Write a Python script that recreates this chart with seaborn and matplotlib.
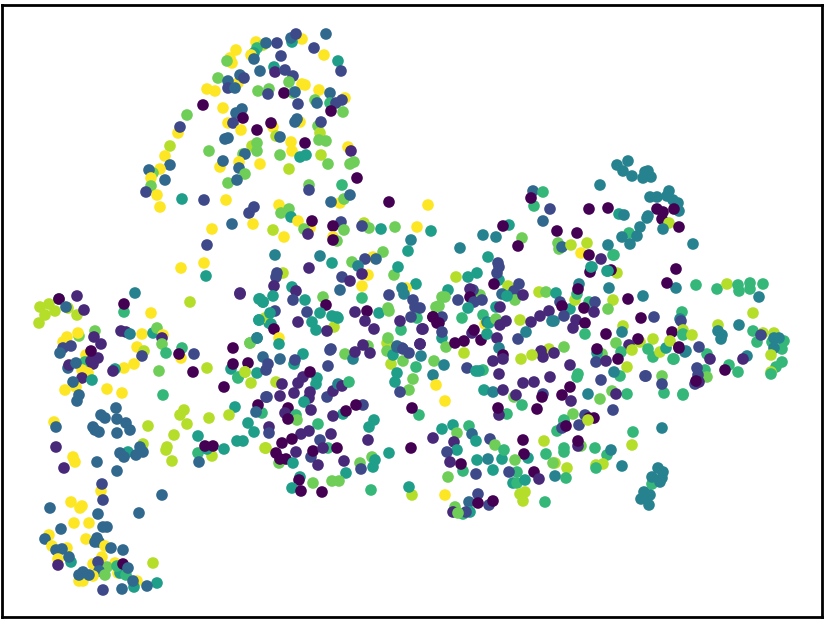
import matplotlib
matplotlib.use("Agg")
import matplotlib.pyplot as plt
import pandas as pd
import seaborn as sns

# (x, y, class), embedding units
left_mid = [(40,307,8),(49,304,8),(45,315,8),(39,323,8),(55,311,8),(68,308,8),(77,315,8),(59,299,6),(59,299,0),(77,296,1),(66,307,3),(84,310,1),
(124,312,6),(124,304,0),(135,293,4),(151,313,9),(190,302,8),(240,294,1),
(95,331,7),(79,336,7),(78,333,9),(67,337,9),(63,342,9),(94,337,1),(101,344,1),(71,346,2),(63,348,2),(60,353,3),(86,355,9),(85,362,6),(98,358,1),(91,361,1),(93,364,1),(91,351,0),
(82,370,9),(88,373,9),(68,368,3),(69,365,1),(76,363,3),(82,378,1),(92,380,5),(76,387,9),(73,382,3),(65,390,9),(79,395,3),(77,401,3),(107,389,9),(122,393,9),
(121,331,1),(126,332,1),(130,334,4),(142,334,9),(153,333,5),(157,328,7),(163,335,9),(162,338,1),(162,344,7),(166,353,6),(182,348,6),(181,358,9),(179,354,0),(194,354,2),(137,347,9),(144,351,8),(142,356,2),(134,364,9),(124,368,9),(115,369,5),(113,371,1),(193,372,0),(207,368,8),(159,371,7),(163,395,6),
(224,387,0),(233,348,0),(231,369,5),(233,364,0),(248,363,0),(238,378,6),(245,372,8),(251,383,8),(257,373,5),(250,343,7),(257,338,4),(259,320,5),(260,299,5),(263,302,5),(265,318,8),(269,323,5),
(266,397,2),(262,413,6),(258,405,0),(256,412,3),(235,407,5),(229,415,8),(209,418,8),(184,410,8),(180,415,8),(187,424,8),(174,435,8),(198,436,5),(248,423,5),(254,432,5),
(116,408,3),(101,415,3),(105,418,3),(117,419,3),(126,423,3),(130,430,3),(93,427,3),(95,430,3),(99,432,3),(117,433,3),(148,426,8),(54,422,9),(56,427,3),(56,447,1)]

bottom_left = [(73,457,9),(75,462,9),(64,468,1),(97,462,3),(117,471,3),(128,452,5),(120,453,3),(124,457,3),(143,444,8),(136,455,3),(140,447,3),(143,452,3),(167,447,8),(166,450,8),(172,461,8),(198,453,6),(199,462,3),(212,456,8),(207,449,5),(205,446,0),(213,446,0),(224,449,5),(237,441,5),(243,441,5),(265,448,8),
(101,491,9),(102,484,2),(103,500,2),(162,495,3),(71,502,9),(80,508,9),(82,506,9),(50,508,3),(98,514,3),(139,513,3),(74,523,9),(89,523,9),(103,527,3),(107,527,3),(61,529,3),(49,535,9),(45,539,3),(86,539,9),(97,538,3),(95,542,3),(99,542,3),(105,546,9),(111,548,3),(123,550,3),(52,546,9),(67,548,9),(56,550,3),(62,549,3),(58,559,9),(71,562,5),(69,557,3),(58,565,1),(102,557,9),(93,564,9),(115,563,9),(153,563,8),(107,567,7),(98,562,2),(99,571,3),(105,575,7),(118,573,9),(120,573,5),(126,575,6),(117,566,6),(123,564,0),(128,568,3),(93,576,9),(79,581,9),(83,581,9),(79,575,3),(83,572,3),(89,575,3),(137,581,9),(134,587,5),(133,581,3),(157,583,5),(147,586,3),(122,589,3),(103,590,2)]

top_arc = [(256,42,9),(263,45,8),(257,48,6),(254,53,5),(251,55,9),(254,59,3),(266,43,3),(277,43,2),(302,39,9),(292,42,5),(291,38,3),(296,34,2),(326,34,3),(314,48,2),(324,55,9),(281,56,2),(338,61,5),(341,71,2),(274,67,5),(260,71,3),(275,72,1),(285,70,2),(293,76,2),(236,50,9),(230,58,9),(232,63,9),(227,61,7),(218,78,7),(238,83,9),(240,75,3),(244,78,2),(228,81,3),(207,89,9),(215,91,9),(228,88,2),(235,88,3),(289,82,7),(302,84,9),(305,85,9),(258,91,7),(269,89,7),(268,94,2),(293,93,7),(284,93,0),(295,92,3),(319,90,9),(330,93,3),(298,104,2),(315,100,7),(317,103,3),(330,103,6),(345,98,9),(342,100,2),(336,103,2),(331,111,0),(343,112,7),(203,105,0),(223,108,9),(242,109,3),(236,113,3),(228,123,9),(233,123,2),(243,118,0),(187,115,7),(178,133,9),(180,127,2),(241,130,9),(257,130,0),(273,127,9),(271,123,0),(300,122,9),(297,119,3),(295,122,3),(318,126,7),(320,133,8),(321,122,2),(276,136,8),(280,137,3),(228,138,3),(225,139,3),(170,146,8),(165,156,9),(209,151,7),(252,146,8),(257,143,7),(257,151,7),(243,154,7),(245,154,3),(291,142,9),(292,151,9),(305,143,0),(319,140,7),(326,141,7),(348,147,9),(351,151,1),(280,155,7),(300,157,5),(306,155,5),(321,155,8),(328,164,7),(354,162,7),(350,164,7),(357,178,0),(220,167,9),(223,161,3),(239,162,9),(239,168,3),(260,164,9),(245,174,7),(289,169,8),(170,165,3),(160,169,9),(153,173,7),(149,170,3),(151,178,9),(165,180,3),(151,186,7),(146,192,2),(228,183,7),(237,180,3),(309,185,7),(309,190,2),(342,185,6),(157,195,9),(160,207,9)]

center_top = [(182,199,5),(204,200,2),(226,200,9),(254,207,2),(249,213,2),(232,224,3),(253,224,9),(212,229,9),(279,205,9),(289,209,7),(281,213,7),(291,217,5),(298,221,9),(273,230,8),(284,237,9),(207,245,2),(204,263,9),(181,268,9),(206,276,5),
(340,203,9),(331,202,3),(344,199,7),(350,195,3),(389,202,0),(428,205,9),(310,228,9),(304,229,7),(312,221,0),(308,234,1),(341,222,2),(344,230,7),(333,226,0),(333,237,9),(337,241,7),(333,240,0),(364,223,8),(369,228,7),(362,226,2),(381,229,5),(395,227,7),(417,227,9),(431,231,5),(411,240,4),(408,251,5),(383,252,7),(373,257,9),(376,259,3),(365,259,2),(352,262,7),(358,266,4),(320,256,4),(332,263,5),(275,255,4),(309,268,1),(283,273,8),(277,273,2),(276,277,2),(368,275,9),(362,274,1),(342,277,2),(350,281,1),(362,286,9),(340,290,3),(394,275,7),(398,267,5),(416,284,5),(406,288,9),(402,288,4),(404,294,4),(389,295,2),(362,298,6),
(240,293,1),(274,286,1),(292,287,5),(296,291,1),(293,300,2),(273,296,5),(259,299,5),(263,302,5),(305,300,5),(323,297,7),(326,305,0),(307,312,2),(320,313,5),(355,312,1),(367,311,0),(379,313,5),(388,308,7),(389,311,7),(417,318,6),(413,300,2),(415,307,2),(420,308,2),(411,317,2),(439,306,7),(436,307,7),(433,317,0),(437,323,0),
(267,318,8),(275,311,2),(270,313,5),(259,320,5),(271,324,5),(274,329,0),(298,322,1),(312,322,5),(316,330,5),(334,327,8),(327,331,1),(332,316,5),(338,318,5),(337,317,5),(365,321,1),(374,329,1),(401,330,6),(400,321,1),(422,329,1),(387,343,8),(388,338,7),(397,346,3),(402,348,2),(420,344,1),(368,346,7),(363,345,1),(331,349,2),(279,338,9),(279,344,5),(250,343,7),(257,338,4),(460,248,4),(483,235,4),(496,237,4),(509,225,5),(503,226,0)]

center_low = [(263,357,3),(280,359,3),(303,354,5),(294,364,5),(295,360,2),(330,350,2),(328,366,2),(345,354,7),(353,359,4),(355,352,1),(370,353,1),(238,377,6),(245,372,8),(268,364,2),(266,370,2),(276,382,8),(282,384,1),(280,396,1),(294,393,1),(298,383,1),(303,377,1),(317,378,5),(316,384,5),(310,372,0),(310,392,1),(309,398,1),(327,397,2),(333,391,1),(338,384,4),(342,386,1),(349,382,6),(267,397,2),(288,408,0),(285,413,1),(296,415,6),(297,420,7),(288,419,0),(304,402,5),(311,410,1),(343,414,5),(333,416,1),(346,411,0),(363,405,2),(356,405,0),(269,427,1),(269,433,2),(318,424,6),(374,420,5),(369,427,5),(368,440,1),(331,434,1),(309,431,1),(301,434,1),(292,439,0),(282,443,0),(266,448,8),(279,463,7),(276,453,0),(280,459,0),(286,459,0),(293,463,5),(296,452,1),(320,440,2),(311,457,2),(313,451,0),(328,448,6),(323,448,1),(337,448,0),(318,465,1),(344,461,1),(346,473,5),(360,463,7),(372,457,7),(375,460,5),(373,467,5),(361,469,2),(300,477,5),(299,480,0),(292,488,5),(301,491,0),(313,483,7),(332,481,7),(339,481,7),(322,492,0),(371,490,6),(412,495,8),(409,487,5),
(391,364,8),(387,351,7),(393,355,5),(403,361,7),(397,347,3),(403,349,2),(409,353,2),(420,344,1),(421,356,4),(416,367,6),(434,361,7),(444,365,4),(397,373,5),(395,382,5),(413,379,7),(433,375,4),(409,390,7),(400,392,2),(419,415,6),(412,408,0),(445,401,9),(436,385,9),(389,453,5),(411,448,0)]

center_right = [(488,257,5),(498,263,2),(499,267,2),(499,280,5),(497,273,2),(477,273,5),(468,277,5),(456,277,8),(508,286,8),(494,284,0),(519,284,2),(514,291,2),(448,290,5),(442,297,7),(445,297,7),(458,300,2),(480,295,7),(473,290,2),(470,289,1),(470,297,0),(474,302,2),(482,300,2),(468,308,5),(515,300,7),(496,307,5),(502,294,3),(507,296,5),(523,295,1),(500,307,1),(462,318,6),(483,315,6),(442,317,2),(433,317,0),(439,323,0),(442,338,5),(442,332,2),(423,329,1),(446,347,7),(455,343,0),(464,341,0),(481,340,0),(472,333,1),(474,330,0),(485,324,9),(487,322,4),(489,323,5),(496,319,7),(487,334,5),(500,325,1),(506,321,1),(497,338,1),(499,348,4),(464,353,8),(520,320,8),(531,322,1),(540,316,1),(549,311,1),(518,339,2),(526,332,4),(539,292,8),(546,292,7),(556,293,5),(570,309,5),(560,302,2),(562,306,0),(552,321,4),(554,321,4),(564,316,2),(576,320,1),(573,328,1),(585,323,0),(585,334,6),(575,300,8),(577,294,6),(579,284,4),(578,289,0),(581,253,9),(589,255,0),(601,259,1),(613,255,6),(592,267,5),(590,272,0),(607,271,5),(617,273,8),(611,270,0),(676,269,0),(676,288,4),(667,283,0),(609,288,4),(643,296,4),(628,299,0),(613,300,8),(608,309,7),(589,302,6),(595,302,2),(584,308,0),(594,312,1),(641,318,0),(654,317,2),(682,312,6),(680,319,4),(681,321,2),(623,326,8),(622,332,4),(606,334,0),(672,332,0),(683,330,8),(683,335,6),(616,343,7),(640,342,8),(638,339,0),(653,339,8),(629,345,1),(602,354,7),(597,353,5),(597,349,0),(596,362,2),(606,361,1),(621,352,6),(618,359,0),(632,350,8),(648,349,6),(653,357,6),(660,352,8),(666,348,5),(673,359,6),(685,352,4),(670,341,8),(679,347,0),(564,347,7),(549,349,8),(541,351,1),(543,357,1),(554,353,1),(532,355,8),(521,359,8),(503,355,0),(503,359,1),(493,361,1),(467,368,2),(483,370,6),(476,371,5),(479,371,5),(499,374,1),(570,365,1),(627,367,8),(620,376,6),(614,372,4),(578,374,6),(577,377,6),(550,377,1),(534,382,1),(523,383,1),(484,390,5),(493,392,4),(503,390,1),(601,380,2),(646,376,2),(662,376,7),(664,393,6),(662,384,2),(683,395,6),(627,394,6),(612,391,7),(616,394,1),(588,394,4),(600,399,7),(570,387,0),(543,394,2),(542,397,0),(562,395,0),(571,401,1),(514,397,7),(516,395,1),(522,405,6),(537,409,0),(507,414,6),(499,415,1),(498,408,0),(573,414,7),(564,420,6),(585,415,2),(613,410,2),(589,418,0),(594,418,0)]

lower_right = [(557,431,6),(564,421,6),(562,428,2),(566,426,0),(579,425,2),(588,420,8),(442,429,5),(453,425,5),(469,426,6),(457,433,7),(433,438,1),(472,434,3),(476,441,5),(454,442,1),(457,450,5),(447,452,2),(450,462,1),(463,471,6),(461,464,0),(448,477,7),(476,474,2),(477,460,5),(488,459,4),(502,459,5),(493,470,5),(490,439,2),(495,445,7),(504,450,6),(523,440,0),(528,458,5),(524,454,0),(515,460,7),(517,472,6),(509,472,2),(534,472,0),(539,479,1),(513,483,5),(517,483,6),(525,480,5),(520,494,8),(525,492,8),(523,501,8),(545,502,6),(544,441,8),(546,454,6),(555,463,8),(553,463,7),(567,468,8),(566,478,6),(555,476,4),(564,448,6),(564,452,6),(581,446,7),(578,446,1),(578,441,0),(595,448,6),(607,455,6),(611,450,4),(603,464,8),(596,465,8),(596,468,6),(622,466,4),(632,445,8),(633,432,6),(662,428,4),
(652,484,6),(658,468,4),(663,472,4),(652,477,4),(662,478,4),(660,482,4),(644,492,4),(650,495,4),(641,499,4),(647,498,4),(649,505,4),
(445,495,9),(469,502,3),(478,494,2),(489,505,2),(478,503,0),(493,501,0),(455,507,7),(463,514,6),(470,512,5),(453,512,1),(466,512,2),(458,513,7)]

upper_right = [(628,161,4),(617,165,4),(623,171,4),(632,176,4),(648,171,4),(645,172,4),(651,177,4),(643,178,4),(600,185,4),(533,191,3),(543,192,6),(534,206,6),(531,198,0),(550,209,2),(589,209,0),(608,208,0),(619,214,5),(624,215,4),(543,221,3),(650,197,4),(657,197,4),(669,191,4),(667,196,4),(673,200,4),(678,203,4),(679,211,4),(657,209,0),(663,212,0),(674,209,0),(662,219,0),(648,216,4),(647,218,4),(669,223,8),(663,229,4),(679,227,0),(640,227,4),(629,233,6),(637,236,4),(622,237,4),(630,244,4),(693,244,4),(557,231,0),(577,233,0),(558,243,7),(559,249,7),(562,247,3),(571,245,8),(587,243,8),(608,245,4),(614,255,6),(591,267,5),(608,271,5),
(696,285,6),(717,289,6),(727,284,8),(738,285,6),(739,291,6),(750,283,6),(750,289,6),(763,284,6),(759,297,4),(522,238,7),(518,246,0)]

far_right = [(683,334,6),(692,335,8),(718,325,8),(718,331,4),(722,335,4),(721,339,4),(739,325,4),(753,331,6),(763,333,8),(774,333,8),(757,342,6),(772,342,6),(784,341,6),(782,349,6),(774,338,4),(779,338,4),(761,335,2),(774,348,4),(753,313,8),(771,355,8),(782,362,6),(776,367,6),(771,372,8),(771,374,6),(747,356,4),(743,359,1),(729,365,6),(738,372,6),(725,370,0),(707,354,6),(710,359,1),(699,347,2),(686,351,4),(679,348,0),(674,359,6),(705,370,6),(707,377,7),(697,368,2),(698,375,2),(695,384,2),(699,382,1),(696,381,0),(683,394,6),(645,376,2)]

regions = [left_mid, bottom_left, top_arc, center_top, center_low, center_right,
           lower_right, upper_right, far_right]
df = pd.DataFrame([p for r in regions for p in r], columns=["x", "y", "label"])

sns.set_theme(style="white")
fig = plt.figure(figsize=(8.29, 6.22), dpi=100)
ax = fig.add_axes([2.5 / 829, 5 / 622, 819.5 / 829, 612.5 / 622])
sns.scatterplot(data=df, x="x", y="y", hue="label", palette="viridis",
                hue_norm=(0, 9), s=70, linewidth=0, legend=False, ax=ax)
ax.set_xlim(2.5, 822)
ax.set_ylim(617, 4.5)
ax.set_xticks([])
ax.set_yticks([])
ax.set_xlabel("")
ax.set_ylabel("")
for s in ax.spines.values():
    s.set_visible(True)
    s.set_color("black")
    s.set_linewidth(2.0)
fig.savefig("out.png", dpi=100)
